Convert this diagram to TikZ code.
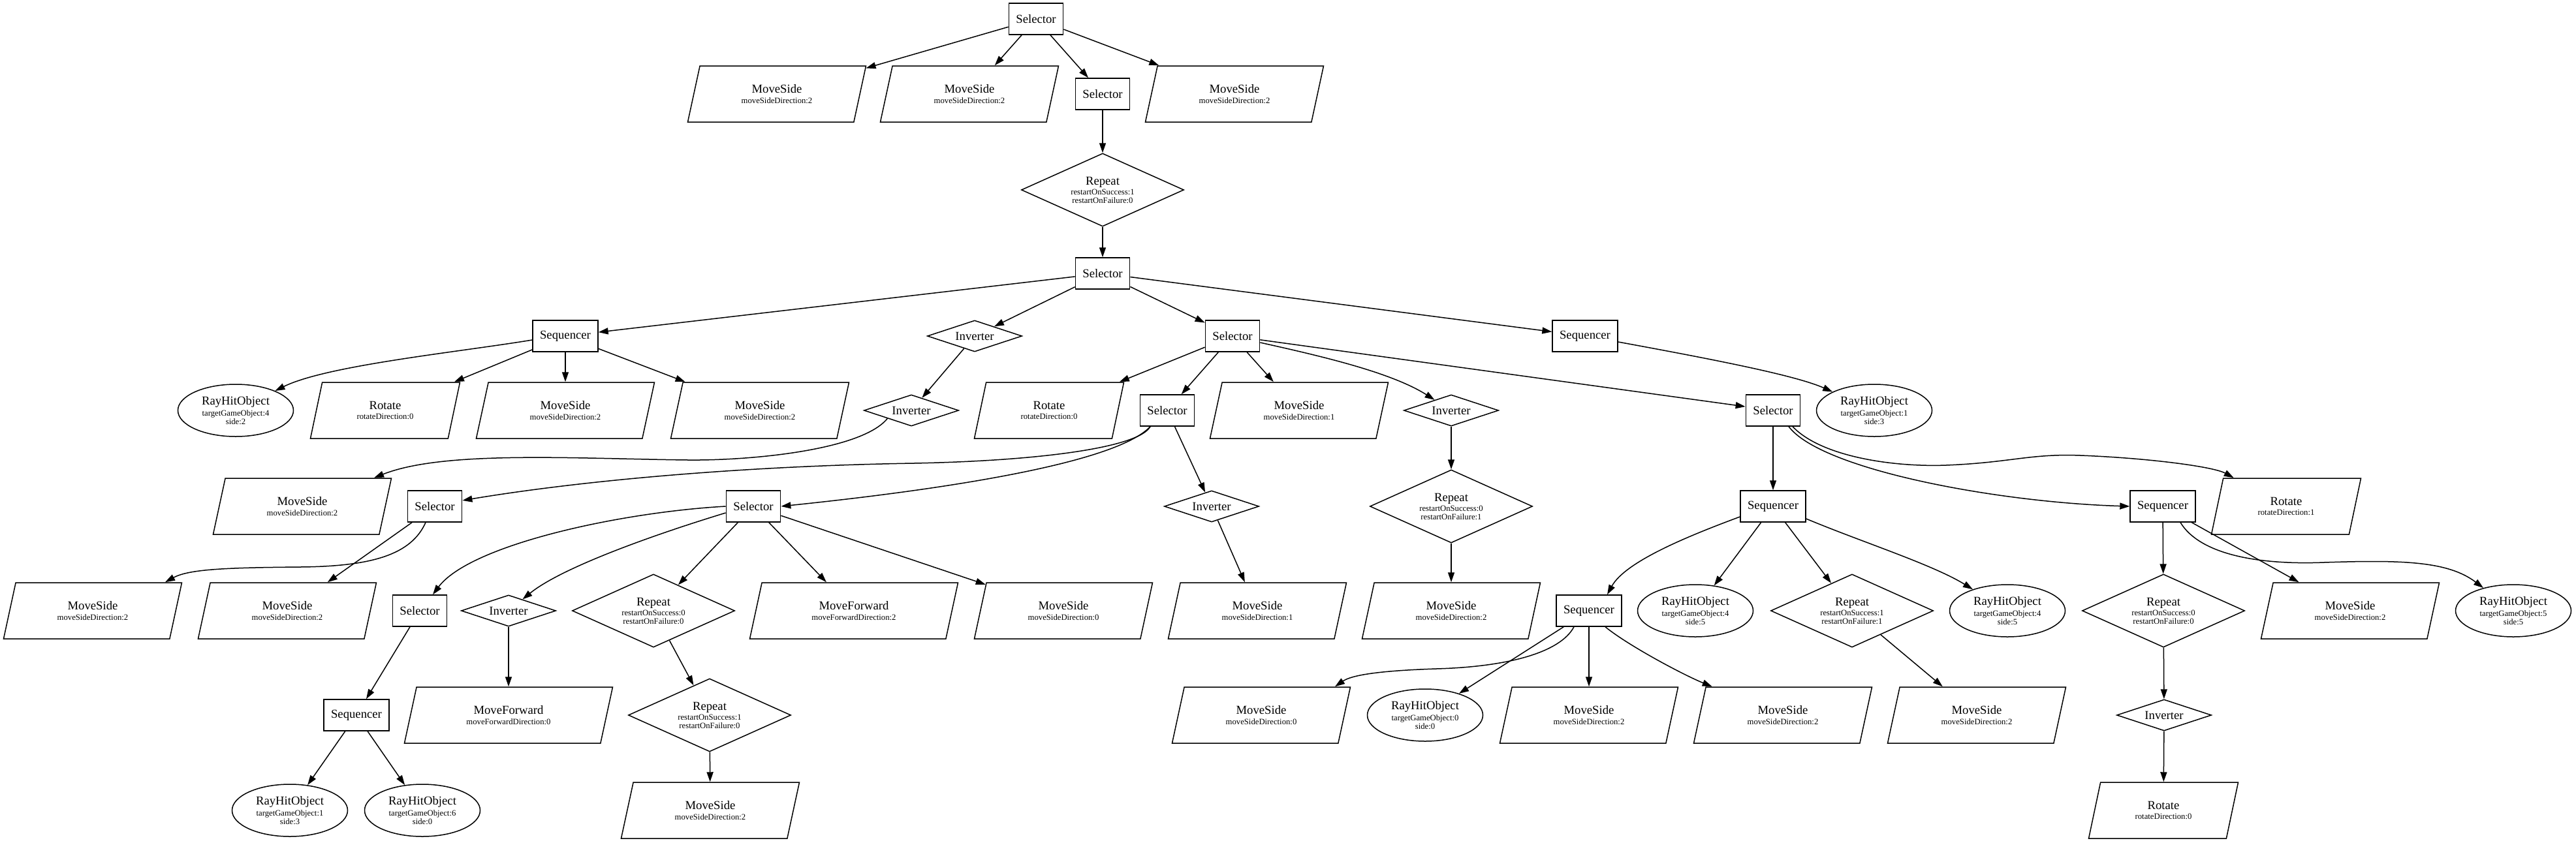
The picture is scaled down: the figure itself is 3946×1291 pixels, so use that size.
\documentclass[tikz,border=0pt]{standalone}
\usepackage{fontspec}
\setmainfont{Liberation Serif}
\usetikzlibrary{shapes.geometric,arrows.meta}
\newcommand\mainfnt{\fontsize{18.7pt}{20pt}\selectfont}
\newcommand\subfnt{\fontsize{12.7pt}{12.5pt}\selectfont}
\newcommand\mlab[1]{{\mainfnt #1}\\[3pt]}
\tikzset{
 gvnode/.style={draw, line width=1.5pt, inner sep=0pt, align=center, font=\subfnt},
 selbox/.style={gvnode, rectangle, minimum height=48pt, inner xsep=11pt, font=\mainfnt},
 para/.style={gvnode, trapezium, trapezium left angle=57, trapezium right angle=123, trapezium stretches body, minimum height=86pt, minimum width=273pt},
 parashort/.style={para, minimum width=229pt},
 paralong/.style={para, minimum width=319pt},
 invd/.style={gvnode, diamond, aspect=3, minimum width=145pt, minimum height=48pt, font=\mainfnt},
 repd/.style={gvnode, diamond, aspect=2.2, minimum width=249pt, minimum height=112pt},
 rho/.style={gvnode, ellipse, minimum width=177pt, minimum height=80pt},
 edgearrow/.style={-{Triangle[length=15pt,width=10pt]}, line width=1.5pt},
}
\begin{document}
\begin{tikzpicture}[x=1pt,y=-1pt]
\fill[white] (0,0) rectangle (3946,1291);
\useasboundingbox (0,0) rectangle (3946,1291);
% row 0
\node[selbox] (s0) at (1587,29) {Selector};
% row 1
\node[para] (ms1a) at (1190,144) {\mlab{MoveSide}moveSideDirection:2};
\node[para] (ms1b) at (1485,144) {\mlab{MoveSide}moveSideDirection:2};
\node[selbox] (s1) at (1689,144) {Selector};
\node[para] (ms1c) at (1891,144) {\mlab{MoveSide}moveSideDirection:2};
% row 2, 3
\node[repd] (rp2) at (1689,291) {\mlab{Repeat}restartOnSuccess:1\\restartOnFailure:0};
\node[selbox] (s3) at (1689,419) {Selector};
% row 4
\node[selbox] (sq4a) at (866,515) {Sequencer};
\node[invd] (iv4) at (1493,515) {Inverter};
\node[selbox] (s4) at (1888,515) {Selector};
\node[selbox] (sq4b) at (2428,515) {Sequencer};
% row 5
\node[rho] (rh5a) at (361,629) {\mlab{RayHitObject}targetGameObject:4\\side:2};
\node[parashort] (ro5a) at (590,629) {\mlab{Rotate}rotateDirection:0};
\node[para] (ms5a) at (866,629) {\mlab{MoveSide}moveSideDirection:2};
\node[para] (ms5b) at (1164,629) {\mlab{MoveSide}moveSideDirection:2};
\node[invd] (iv5) at (1396,629) {Inverter};
\node[parashort] (ro5b) at (1607,629) {\mlab{Rotate}rotateDirection:0};
\node[selbox] (s5) at (1788,629) {Selector};
\node[para] (ms5c) at (1990,629) {\mlab{MoveSide}moveSideDirection:1};
\node[invd] (iv5b) at (2223,629) {Inverter};
\node[selbox] (s5b) at (2716,629) {Selector};
\node[rho] (rh5b) at (2871,629) {\mlab{RayHitObject}targetGameObject:1\\side:3};
% row 6
\node[para] (ms6) at (463,776) {\mlab{MoveSide}moveSideDirection:2};
\node[selbox] (s6a) at (666,776) {Selector};
\node[selbox] (s6b) at (1154,776) {Selector};
\node[invd] (iv6) at (1856,776) {Inverter};
\node[repd] (rp6) at (2223,776) {\mlab{Repeat}restartOnSuccess:0\\restartOnFailure:1};
\node[selbox] (sq6a) at (2716,776) {Sequencer};
\node[selbox] (sq6b) at (3313,776) {Sequencer};
\node[parashort] (ro6) at (3502,776) {\mlab{Rotate}rotateDirection:1};
% row 7
\node[para] (ms7a) at (142,936) {\mlab{MoveSide}moveSideDirection:2};
\node[para] (ms7b) at (440,936) {\mlab{MoveSide}moveSideDirection:2};
\node[selbox] (s7) at (643,936) {Selector};
\node[invd] (iv7) at (779,936) {Inverter};
\node[repd] (rp7) at (1001,936) {\mlab{Repeat}restartOnSuccess:0\\restartOnFailure:0};
\node[paralong] (mf7) at (1308,936) {\mlab{MoveForward}moveForwardDirection:2};
\node[para] (ms7c) at (1629,936) {\mlab{MoveSide}moveSideDirection:0};
\node[para] (ms7d) at (1926,936) {\mlab{MoveSide}moveSideDirection:1};
\node[para] (ms7e) at (2223,936) {\mlab{MoveSide}moveSideDirection:2};
\node[selbox] (sq7) at (2434,936) {Sequencer};
\node[rho] (rh7a) at (2597,936) {\mlab{RayHitObject}targetGameObject:4\\side:5};
\node[repd] (rp7b) at (2837,936) {\mlab{Repeat}restartOnSuccess:1\\restartOnFailure:1};
\node[rho] (rh7b) at (3075,936) {\mlab{RayHitObject}targetGameObject:4\\side:5};
\node[repd] (rp7c) at (3314,936) {\mlab{Repeat}restartOnSuccess:0\\restartOnFailure:0};
\node[para] (ms7f) at (3600,936) {\mlab{MoveSide}moveSideDirection:2};
\node[rho] (rh7c) at (3850,936) {\mlab{RayHitObject}targetGameObject:5\\side:5};
% row 8
\node[selbox] (sq8) at (546,1096) {Sequencer};
\node[paralong] (mf8) at (779,1096) {\mlab{MoveForward}moveForwardDirection:0};
\node[repd] (rp8) at (1087,1096) {\mlab{Repeat}restartOnSuccess:1\\restartOnFailure:0};
\node[para] (ms8a) at (1932,1096) {\mlab{MoveSide}moveSideDirection:0};
\node[rho] (rh8) at (2183,1096) {\mlab{RayHitObject}targetGameObject:0\\side:0};
\node[para] (ms8b) at (2434,1096) {\mlab{MoveSide}moveSideDirection:2};
\node[para] (ms8c) at (2731,1096) {\mlab{MoveSide}moveSideDirection:2};
\node[para] (ms8d) at (3028,1096) {\mlab{MoveSide}moveSideDirection:2};
\node[invd] (iv8) at (3315,1096) {Inverter};
% row 9
\node[rho] (rh9a) at (444,1242) {\mlab{RayHitObject}targetGameObject:1\\side:3};
\node[rho] (rh9b) at (647,1242) {\mlab{RayHitObject}targetGameObject:6\\side:0};
\node[para] (ms9) at (1088,1242) {\mlab{MoveSide}moveSideDirection:2};
\node[parashort] (ro9) at (3314,1242) {\mlab{Rotate}rotateDirection:0};

% straight edges
\foreach \a/\b in {s0/ms1a, s0/ms1b, s0/s1, s0/ms1c, s1/rp2, rp2/s3,
  s3/sq4a, s3/iv4, s3/s4, s3/sq4b,
  sq4a/ro5a, sq4a/ms5a, sq4a/ms5b, iv4/iv5,
  s4/ro5b, s4/s5, s4/ms5c, s4/s5b,
  s5/iv6, iv6/ms7d, iv5b/rp6, rp6/ms7e, s5b/sq6a,
  s6a/ms7b, s6b/rp7, s6b/mf7, s6b/ms7c,
  s7/sq8, sq8/rh9a, sq8/rh9b, iv7/mf8, rp7/rp8, rp8/ms9,
  sq6a/rh7a, sq6a/rp7b, rp7b/ms8d, sq7/rh8, sq7/ms8b,
  sq6b/rp7c, sq6b/ms7f, rp7c/iv8, iv8/ro9}
  \draw[edgearrow] (\a) -- (\b);

% curved edges
\draw[edgearrow] ([yshift=-6pt]sq4a.west) .. controls (700,540) and (500,560) .. (rh5a);
\draw[edgearrow] ([yshift=-9pt]sq4b.east) .. controls (2620,550) and (2750,575) .. (rh5b);
\draw[edgearrow] ([yshift=-10pt]s4.east) .. controls (2020,545) and (2130,570) .. (iv5b);
\draw[edgearrow] (iv5.south west) .. controls (1320,690) and (1150,706) .. (1054,705)
   .. controls (880,703) and (680,690) .. ([xshift=110pt]ms6.north);
\draw[edgearrow] ([xshift=-26pt]s5.south) .. controls (1745,685) and (1600,706) .. (1400,710)
   .. controls (1150,714) and (900,735) .. ([yshift=9pt]s6a.east);
\draw[edgearrow] ([xshift=-26pt]s5.south) .. controls (1700,720) and (1350,760) .. (s6b.east);
\draw[edgearrow] ([xshift=-14pt]s6a.south) .. controls (630,850) and (570,868) .. (460,869)
   .. controls (350,870) and (290,872) .. ([xshift=111pt]ms7a.north);
\draw[edgearrow] (s6b.west) .. controls (950,785) and (720,835) .. ([xshift=20pt]s7.north);
\draw[edgearrow] ([yshift=-10pt]s6b.west) .. controls (1000,820) and (860,870) .. (iv7);
\draw[edgearrow] ([xshift=24pt]s5b.south) .. controls (2790,720) and (3060,770) .. (sq6b.west);
\draw[edgearrow] ([xshift=30pt]s5b.south) .. controls (2790,700) and (2900,716) .. (2981,713)
   .. controls (3080,709) and (3110,695) .. (3187,698)
   .. controls (3290,702) and (3390,715) .. (ro6);
\draw[edgearrow] ([xshift=27pt]sq6b.south) .. controls (3370,850) and (3460,866) .. (3560,862)
   .. controls (3680,858) and (3750,860) .. (rh7c);
\draw[edgearrow] ([yshift=-16pt]sq6a.west) .. controls (2590,820) and (2490,860) .. ([xshift=28pt]sq7.north);
\draw[edgearrow] ([yshift=-19pt]sq6a.east) .. controls (2850,830) and (2960,865) .. (rh7b);
\draw[edgearrow] ([xshift=-23pt]sq7.south) .. controls (2390,1000) and (2310,1022) .. (2200,1025)
   .. controls (2110,1028) and (2070,1035) .. ([xshift=113pt]ms8a.north);
\draw[edgearrow] ([xshift=25pt]sq7.south) .. controls (2495,990) and (2580,1035) .. (ms8c);
\end{tikzpicture}
\end{document}
